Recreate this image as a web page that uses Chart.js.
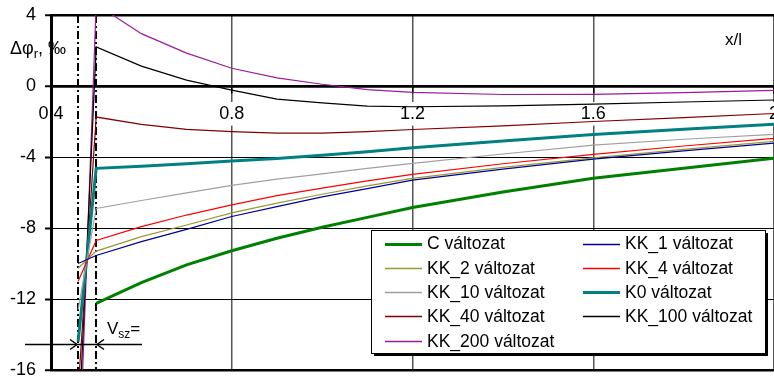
<!DOCTYPE html>
<html>
<head>
<meta charset="utf-8">
<script src="https://cdn.jsdelivr.net/npm/chart.js@4/dist/chart.umd.min.js"></script>
<style>
  html, body { margin: 0; padding: 0; background: #fff; overflow: hidden; }
  #wrap { position: relative; width: 774px; height: 376px; }
</style>
</head>
<body>
<div id="wrap"><canvas id="c"></canvas></div>
<script>
const FONT = "'Liberation Sans', Arial, Helvetica, sans-serif";

// relative position along the span, x/l
const xValues = [0.46, 0.5, 0.6, 0.7, 0.8, 0.9, 1.0, 1.1, 1.2, 1.4, 1.6, 1.8, 2.0];

// Δφr in ‰ for each variant
const valuesC     = [null, -12.24, -11.08, -10.08, -9.28, -8.58, -7.96, -7.40, -6.85, -5.97, -5.20, -4.64, -4.07];
const valuesKK1   = [-10.0, -9.55, -8.77, -8.08, -7.35, -6.80, -6.25, -5.78, -5.30, -4.68, -4.12, -3.65, -3.22];
const valuesKK2   = [-10.27, -9.30, -8.49, -7.83, -7.15, -6.60, -6.10, -5.63, -5.20, -4.58, -4.05, -3.57, -3.12];
const valuesKK4   = [-11.0, -8.70, -7.92, -7.27, -6.70, -6.18, -5.75, -5.35, -4.98, -4.38, -3.85, -3.38, -2.95];
const valuesKK10  = [-12.6, -6.90, -6.45, -6.02, -5.60, -5.25, -4.95, -4.64, -4.36, -3.83, -3.33, -3.00, -2.72];
const valuesK0    = [-14.4, -4.64, -4.52, -4.38, -4.22, -4.08, -3.90, -3.70, -3.48, -3.10, -2.73, -2.43, -2.15];
const valuesKK40  = [-17.2, -1.75, -2.16, -2.44, -2.57, -2.66, -2.65, -2.57, -2.45, -2.25, -2.00, -1.78, -1.55];
const valuesKK100 = [-20.0, 2.20, 1.12, 0.33, -0.23, -0.74, -0.95, -1.13, -1.17, -1.12, -1.02, -0.90, -0.79];
const valuesKK200 = [-23.0, 4.60, 2.95, 1.85, 1.00, 0.46, 0.10, -0.20, -0.36, -0.48, -0.47, -0.37, -0.25];

const seriesNames = ['C változat', 'KK_1 változat', 'KK_2 változat', 'KK_4 változat', 'KK_10 változat',
                     'K0 változat', 'KK_40 változat', 'KK_100 változat', 'KK_200 változat'];

const xTicks = [0.4, 0.8, 1.2, 1.6, 2.0];
const xTickLabels = ['0.4', '0.8', '1.2', '1.6', '2'];
const yTicks = [4, 0, -4, -8, -12, -16];
const yTickLabels = ['4', '0', '-4', '-8', '-12', '-16'];

// support zone bounds marked with dash-dot lines (V_sz)
const zoneStart = 0.46;
const zoneEnd = 0.5;

const seriesValues = [valuesC, valuesKK1, valuesKK2, valuesKK4, valuesKK10, valuesK0, valuesKK40, valuesKK100, valuesKK200];
const seriesColors = ['#008000', '#000099', '#999933', '#ff0000', '#a0a0a0', '#008080', '#800000', '#000000', '#9b1b9b'];
const seriesWidths = [3, 1.2, 1.2, 1.2, 1.2, 3, 1.2, 1.2, 1.2];

const datasets = seriesNames.map((name, i) => ({
  label: name,
  data: xValues.map((x, j) => ({ x: x, y: seriesValues[i][j] })),
  borderColor: seriesColors[i],
  backgroundColor: seriesColors[i],
  borderWidth: seriesWidths[i],
  pointRadius: 0,
  tension: 0,
  fill: false,
  spanGaps: false
}));

const near = (a, b) => Math.abs(a - b) < 1e-6;
const idxOf = (arr, v) => arr.findIndex(t => near(t, v));

function drawSub(ctx, parts, x, y) {
  // parts: [text, size, dy]
  let cx = x;
  for (const [t, size, dy] of parts) {
    ctx.font = size + 'px ' + FONT;
    ctx.fillText(t, cx, y + dy);
    cx += ctx.measureText(t).width;
  }
}

const zoneLines = {
  id: 'zoneLines',
  beforeDatasetsDraw(chart) {
    const ctx = chart.ctx, xs = chart.scales.x, a = chart.chartArea;
    ctx.save();
    ctx.strokeStyle = '#000';
    ctx.lineWidth = 2;
    ctx.setLineDash([8, 3, 2, 3]);
    for (const v of [zoneStart, zoneEnd]) {
      const px = Math.round(xs.getPixelForValue(v));
      ctx.beginPath();
      ctx.moveTo(px, a.top);
      ctx.lineTo(px, a.bottom);
      ctx.stroke();
    }
    ctx.restore();
  }
};

const overlay = {
  id: 'overlay',
  afterDraw(chart) {
    const ctx = chart.ctx, xs = chart.scales.x, ys = chart.scales.y;
    ctx.save();
    ctx.fillStyle = '#000';
    ctx.strokeStyle = '#000';
    ctx.textBaseline = 'alphabetic';

    // dimension arrow for V_sz
    const xl = Math.round(xs.getPixelForValue(zoneStart));
    const xr = Math.round(xs.getPixelForValue(zoneEnd));
    const ay = Math.round(ys.getPixelForValue(-14.55)) + 0.5;
    ctx.lineWidth = 1.5;
    ctx.beginPath();
    ctx.moveTo(xl - 53, ay); ctx.lineTo(xr + 46, ay);
    ctx.stroke();
    ctx.beginPath();
    ctx.moveTo(xl - 8, ay - 5); ctx.lineTo(xl - 1, ay); ctx.lineTo(xl - 8, ay + 5);
    ctx.moveTo(xr + 8, ay - 5); ctx.lineTo(xr + 1, ay); ctx.lineTo(xr + 8, ay + 5);
    ctx.stroke();
    drawSub(ctx, [['V', 17, 0], ['sz', 12, 4], ['=', 17, 0]], xr + 11, ay - 11);

    // axis captions
    drawSub(ctx, [['Δφ', 18, 0], ['r', 13, 4], [', ‰', 18, 0]], 10, 54);
    ctx.font = '17px ' + FONT;
    ctx.fillText('x/l', 725, 45);

    // legend box with shadow
    const bx = 371, by = 230, bw = 394, bh = 123;
    ctx.fillStyle = '#000';
    ctx.fillRect(bx + 3, by + 3, bw, bh);
    ctx.fillStyle = '#fff';
    ctx.fillRect(bx, by, bw, bh);
    ctx.lineWidth = 1;
    ctx.strokeStyle = '#000';
    ctx.strokeRect(bx + 0.5, by + 0.5, bw, bh);

    const colX = [385, 583];
    const row0 = 243.5, rowStep = 24.3;
    ctx.font = '17.5px ' + FONT;
    ctx.textBaseline = 'middle';
    chart.data.datasets.forEach((ds, i) => {
      const cx = colX[i % 2];
      const cy = row0 + Math.floor(i / 2) * rowStep;
      ctx.strokeStyle = ds.borderColor;
      ctx.lineWidth = ds.borderWidth >= 2 ? 3 : 1.3;
      ctx.beginPath();
      ctx.moveTo(cx, Math.round(cy) + 0.5);
      ctx.lineTo(cx + 37, Math.round(cy) + 0.5);
      ctx.stroke();
      ctx.fillStyle = '#000';
      ctx.fillText(ds.label, cx + 42, cy + 1);
    });
    ctx.restore();
  }
};

new Chart(document.getElementById('c'), {
  type: 'line',
  data: { datasets: datasets },
  options: {
    responsive: true,
    maintainAspectRatio: false,
    animation: false,
    events: [],
    layout: { autoPadding: false, padding: { top: 15, bottom: 6, left: 0, right: 0 } },
    plugins: { legend: { display: false }, tooltip: { enabled: false } },
    scales: {
      x: {
        type: 'linear',
        min: 0.4,
        max: 2.0,
        position: { y: 0 },
        z: 1,
        afterBuildTicks: s => { s.ticks = xTicks.map(v => ({ value: v })); },
        afterFit: s => { s.paddingLeft = 0; s.paddingRight = 0; s.paddingTop = 0; s.paddingBottom = 0; },
        ticks: {
          callback: v => xTickLabels[idxOf(xTicks, v)],
          font: { family: FONT, size: 18 },
          color: '#000',
          padding: 11,
          maxRotation: 0,
          autoSkip: false,
          showLabelBackdrop: true,
          backdropColor: '#fff',
          backdropPadding: { top: 1, bottom: 1, left: 2, right: 2 }
        },
        grid: {
          color: '#555',
          lineWidth: c => (c.tick && near(c.tick.value, 0.4)) ? 0 : 1.5,
          tickLength: 6,
          tickColor: '#000',
          tickWidth: 1.5
        },
        border: { display: true, color: '#000', width: 2.5 }
      },
      y: {
        type: 'linear',
        min: -16,
        max: 4,
        position: 'left',
        afterBuildTicks: s => { s.ticks = yTicks.map(v => ({ value: v })); },
        afterFit: s => { s.width = 51; s.paddingTop = 0; s.paddingBottom = 0; s.paddingLeft = 0; s.paddingRight = 0; },
        ticks: {
          callback: v => yTickLabels[idxOf(yTicks, v)],
          font: { family: FONT, size: 18 },
          color: '#000',
          padding: 9
        },
        grid: {
          color: '#000',
          lineWidth: c => (c.tick && [4, 0, -16].some(v => near(v, c.tick.value))) ? 2.5 : 1,
          tickLength: 6,
          tickColor: '#000',
          tickWidth: 2
        },
        border: { display: true, color: '#000', width: 3 }
      }
    }
  },
  plugins: [zoneLines, overlay]
});
</script>
</body>
</html>
